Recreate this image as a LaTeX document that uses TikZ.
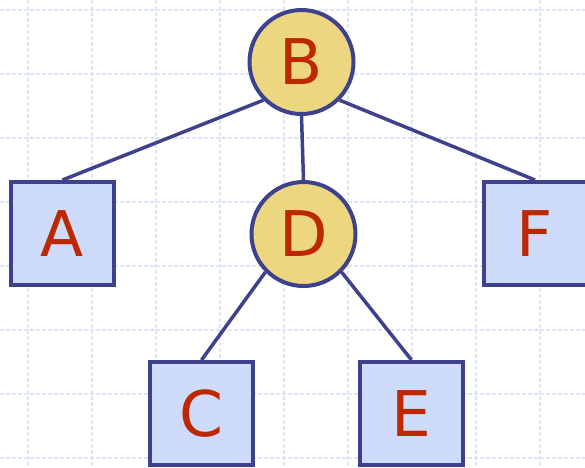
\documentclass[tikz,border=0pt]{standalone}
\usepackage{fontspec}
\setmainfont{DejaVu Sans}
\definecolor{edgeblue}{RGB}{62,66,140}
\definecolor{circfill}{RGB}{236,214,128}
\definecolor{boxfill}{RGB}{206,219,250}
\definecolor{letterred}{RGB}{190,40,0}
\definecolor{gridblue}{RGB}{222,229,248}
\tikzset{
  treecirc/.style={draw=edgeblue, line width=4pt, circle, fill=circfill, minimum size=104pt, inner sep=0pt, text=letterred, font=\fontsize{63}{70}\selectfont},
  treebox/.style={draw=edgeblue, line width=4pt, rectangle, fill=boxfill, minimum size=103pt, inner sep=0pt, text=letterred, font=\fontsize{63}{70}\selectfont},
  treeedge/.style={edgeblue, line width=3.5pt}
}
\begin{document}
\begin{tikzpicture}[x=1pt, y=-1pt]
		\useasboundingbox (0,0) rectangle (585,467);
		\clip (0,0) rectangle (585,467);
		% grid
		\foreach \gx in {28,92,...,540}
			\draw[gridblue, line width=1.2pt, dash pattern=on 4pt off 2pt] (\gx,0) -- (\gx,467);
		\foreach \gy in {10,74,...,458}
			\draw[gridblue, line width=1.2pt, dash pattern=on 4pt off 2pt] (0,\gy) -- (585,\gy);
		% nodes
		\node[treecirc] (B)at(301.5, 62) {B};
		\node[treecirc] (D)at(303.5, 234) {D};
		\node[treebox] (A)at(62.5, 233.5) {A};
		\node[treebox] (F)at(535, 233.5) {F};
		\node[treebox] (C)at(201.5, 413.5) {C};
		\node[treebox] (E)at(411.5, 413.5) {E};
		% edges
		\draw[treeedge] (B.south west) -- (A.north);
		\draw[treeedge] (B.south east) -- (F.north);
		\draw[treeedge] (B.south) -- (D.north);
		\draw[treeedge] (D.south west) -- (C.north);
		\draw[treeedge] (D.south east) -- (E.north);
\end{tikzpicture}
\end{document}
